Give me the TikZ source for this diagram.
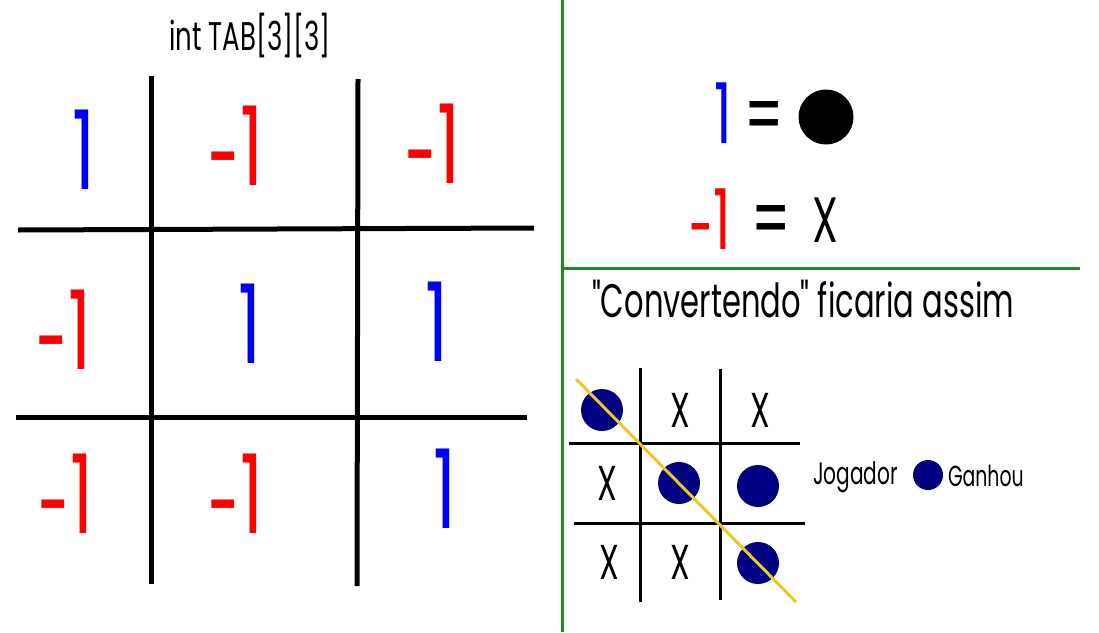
\documentclass[tikz,border=0pt]{standalone}
\usepackage{fontspec}
\setmainfont[FakeStretch=0.65, Ligatures=TeXOff]{Poppins}
\usepackage{graphicx}
\usepackage{tikz}
\definecolor{splitgreen}{RGB}{30,140,30}
\definecolor{piecenavy}{RGB}{0,0,128}
\definecolor{winyellow}{RGB}{235,200,40}
\newcommand{\minusone}{\raisebox{-0.1em}[0pt][0pt]{\scalebox{0.8}[1]{-}}1}

\begin{document}
\begin{tikzpicture}[
    x=1pt, y=-1pt,
    every node/.style={inner sep=0pt, outer sep=0pt},
    val/.style={font=\fontsize{110}{110}\selectfont},
    posval/.style={val, text=blue},
    negval/.style={val, text=red},
    legval/.style={font=\fontsize{84}{84}\selectfont},
    xmark/.style={font=\fontsize{49}{49}\selectfont},
    piece/.style={circle, fill=piecenavy, minimum size=42pt},
    bigline/.style={line width=5pt},
    smallline/.style={line width=3pt},
    split/.style={line width=3pt, splitgreen}
]
\useasboundingbox (0,0) rectangle (1099,632);

% matrix TAB
\node[anchor=base, font=\fontsize{40}{40}\selectfont] (title) at (250,50) {int TAB[3][3]};
\draw[bigline] (151,76) -- (151,584);
\draw[bigline] (358,79) -- (357,586);
\draw[bigline] (18,230) -- (534,228);
\draw[bigline] (16,417) -- (527,417);
\node[posval] (t00) at (84,150) {1};
\node[negval] (t01) at (236,146) {\minusone};
\node[negval] (t02) at (433,144) {\minusone};
\node[negval] (t10) at (64,330) {\minusone};
\node[posval] (t11) at (250,324) {1};
\node[posval] (t12) at (437,322) {1};
\node[negval] (t20) at (66,494) {\minusone};
\node[negval] (t21) at (236,494) {\minusone};
\node[posval] (t22) at (445,489) {1};

% separators
\draw[split] (562,0) -- (562,632);
\draw[split] (562,268) -- (1080,268);

% legend
\node[legval, text=blue] (one) at (723,113) {1};
\node[legval, anchor=base] (eqone) at (764,144) {=};
\node[circle, fill=black, minimum size=55pt] (dot) at (826,117) {};
\node[legval, text=red] (mone) at (710,219) {\minusone};
\node[legval, anchor=base] (eqmone) at (771,248) {=};
\node[font=\fontsize{64}{64}\selectfont] (cross) at (825,220) {X};

% converted board
\node[anchor=base, font=\fontsize{47}{47}\selectfont] (conv) at (803,317) {"Convertendo" ficaria assim};
\draw[smallline] (640,368) -- (640,602);
\draw[smallline] (720,369) -- (720,600);
\draw[smallline] (569,443) -- (800,443);
\draw[smallline] (574,523) -- (805,523);
\node[piece] (b00) at (602,410) {};
\node[xmark] (b01) at (680,410) {X};
\node[xmark] (b02) at (760,410) {X};
\node[xmark] (b10) at (607,483) {X};
\node[piece] (b11) at (679,483) {};
\node[piece] (b12) at (758,486) {};
\node[xmark] (b20) at (609,562) {X};
\node[xmark] (b21) at (680,562) {X};
\node[piece] (b22) at (758,563) {};
\coordinate (winstart) at (576,379);
\coordinate (winend) at (796,602);
\draw[line width=3pt, winyellow] (winstart) -- (winend);

\node[anchor=base west, font=\fontsize{31}{31}\selectfont] (player) at (813,484) {Jogador};
\node[circle, fill=piecenavy, minimum size=30pt] (who) at (928,475) {};
\node[anchor=base west, font=\fontsize{29}{29}\selectfont] (won) at (948,486) {Ganhou};
\end{tikzpicture}
\end{document}
